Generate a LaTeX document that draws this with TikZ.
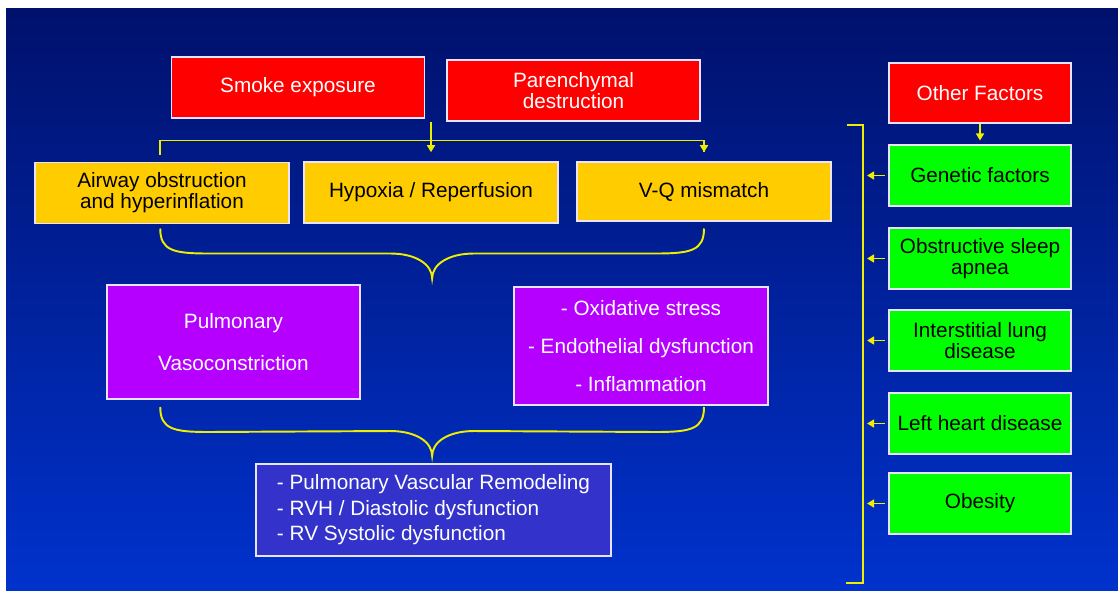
\documentclass[tikz,border=0pt]{standalone}
\usepackage{fontspec}
\setmainfont{Liberation Sans}
\usetikzlibrary{arrows.meta, calc}

\definecolor{bgtop}{RGB}{0,17,108}
\definecolor{bgbottom}{RGB}{0,50,205}
\definecolor{boxred}{RGB}{255,0,0}
\definecolor{boxgold}{RGB}{255,204,0}
\definecolor{boxgreen}{RGB}{0,255,0}
\definecolor{boxpurple}{RGB}{182,0,255}
\definecolor{boxblue}{RGB}{51,51,204}
\definecolor{linkyellow}{RGB}{238,238,0}
\definecolor{rim}{RGB}{232,228,255}

\tikzset{
	box/.style={rectangle, draw=rim, line width=1.1pt, inner sep=0pt, align=center,
		font=\fontsize{11.8}{12}\selectfont},
	redbox/.style={box, fill=boxred, text=white, minimum width=5.06cm, minimum height=1.22cm},
	goldbox/.style={box, fill=boxgold, text=black, minimum width=5.08cm, minimum height=1.22cm},
	greenbox/.style={box, fill=boxgreen, text=black, minimum width=3.64cm, minimum height=1.22cm},
	purplebox/.style={box, fill=boxpurple, text=white, minimum width=5.07cm},
	bluebox/.style={box, fill=boxblue, text=white, align=left,
		minimum width=7.1cm, minimum height=1.84cm},
	link/.style={draw=linkyellow, line width=1.1pt},
	>={Triangle[width=4.5pt,length=4pt]}
}

\begin{document}
\begin{tikzpicture}[x=0.02cm, y=-0.02cm]
	\useasboundingbox (0,0) rectangle (1118,591);
	
	% Background
	\fill[white] (0,0) rectangle (1118,591);
	\shade[top color=bgtop, bottom color=bgbottom] (6,9) rectangle (1118,591);
	
	% Causes
	\node[redbox] (smoke) at (298,87.5) {Smoke exposure};
	\node[redbox] (paren) at (573.5,90.5) {Parenchymal\\destruction};
	
	\node[goldbox] (airway) at (162,193) {Airway obstruction\\and hyperinflation};
	\node[goldbox] (hypoxia) at (431,192.5) {Hypoxia / Reperfusion};
	\node[goldbox, minimum height=1.18cm] (vq) at (704,191.5) {V-Q mismatch};
	
	% Mechanisms
	\node[purplebox, minimum height=2.28cm] (vaso) at (233.5,342) {Pulmonary\\[12pt]Vasoconstriction};
	\node[purplebox, minimum height=2.36cm] (stress) at (641,346)
		{- Oxidative stress\\[9.5pt]- Endothelial dysfunction\\[9.5pt]- Inflammation};
	
	% Result
	\node[bluebox] (remodel) at (433.5,510)
		{- Pulmonary Vascular Remodeling\\[2.5pt]- RVH / Diastolic dysfunction\\[2.5pt]- RV Systolic dysfunction};
	
	% Other factors
	\node[redbox, minimum width=3.64cm, minimum height=1.2cm] (other) at (980,93) {Other Factors};
	\node[greenbox] (gen) at (980,175.5) {Genetic factors};
	\node[greenbox] (osa) at (980,258.5) {Obstructive sleep\\apnea};
	\node[greenbox] (ild) at (980,340.5) {Interstitial lung\\disease};
	\node[greenbox] (lhd) at (980,423.5) {Left heart disease};
	\node[greenbox] (obe) at (980,503.5) {Obesity};
	
	% Top connector
	\draw[link] ([xshift=-1pt,yshift=4pt]airway.north) -- ++(0,-14) -| ([yshift=5pt]vq.north);
	\draw[link,->] ([yshift=5pt]vq.north) ++(0,-12) -- ([yshift=5pt]vq.north);
	\draw[link,->] ([yshift=-2pt]smoke.south -| hypoxia.north) -- ([yshift=5pt]hypoxia.north);
	
	% Braces
	\coordinate (b1l) at ([xshift=-1pt,yshift=-2.3pt]airway.south);
	\coordinate (b1r) at (b1l -| vq.south);
	\coordinate (b1t) at ($(b1l)!0.5!(b1r)+(0,50)$);
	\draw[link] (b1l) .. controls +(0,22) and +(-35,0) .. ($(b1l)+(48,25)$)
		-- ($(b1t)+(-42,-25)$) .. controls +(26,0) and +(0,-14) .. (b1t)
		.. controls +(0,-14) and +(-26,0) .. ($(b1t)+(42,-25)$)
		-- ($(b1r)+(-48,25)$) .. controls +(35,0) and +(0,22) .. (b1r);
	
	\coordinate (b2l) at (b1l |- 0,407);
	\coordinate (b2r) at (b1r |- 0,407);
	\coordinate (b2t) at ([yshift=4pt]remodel.north -| b1t);
	\draw[link] (b2l) .. controls +(0,22) and +(-35,0) .. ($(b2l)+(48,25)$)
		-- ($(b2t)+(-42,-25)$) .. controls +(26,0) and +(0,-14) .. (b2t)
		.. controls +(0,-14) and +(-26,0) .. ($(b2t)+(42,-25)$)
		-- ($(b2r)+(-48,25)$) .. controls +(35,0) and +(0,22) .. (b2r);
	
	% Side bracket
	\coordinate (bt) at (863,125);
	\coordinate (bb) at (863,583);
	\draw[link] ($(bt)+(-16,0)$) -- (bt) -- (bb) -- ++(-17,0);
	\draw[link,->] (other.south) -- ([yshift=2pt]gen.north);
	\foreach \n in {gen,osa,ild,lhd,obe}
		\draw[link,->] ([xshift=-2pt]\n.west) -- ($(\n.west -| bt)+(4,0)$);
\end{tikzpicture}
\end{document}
